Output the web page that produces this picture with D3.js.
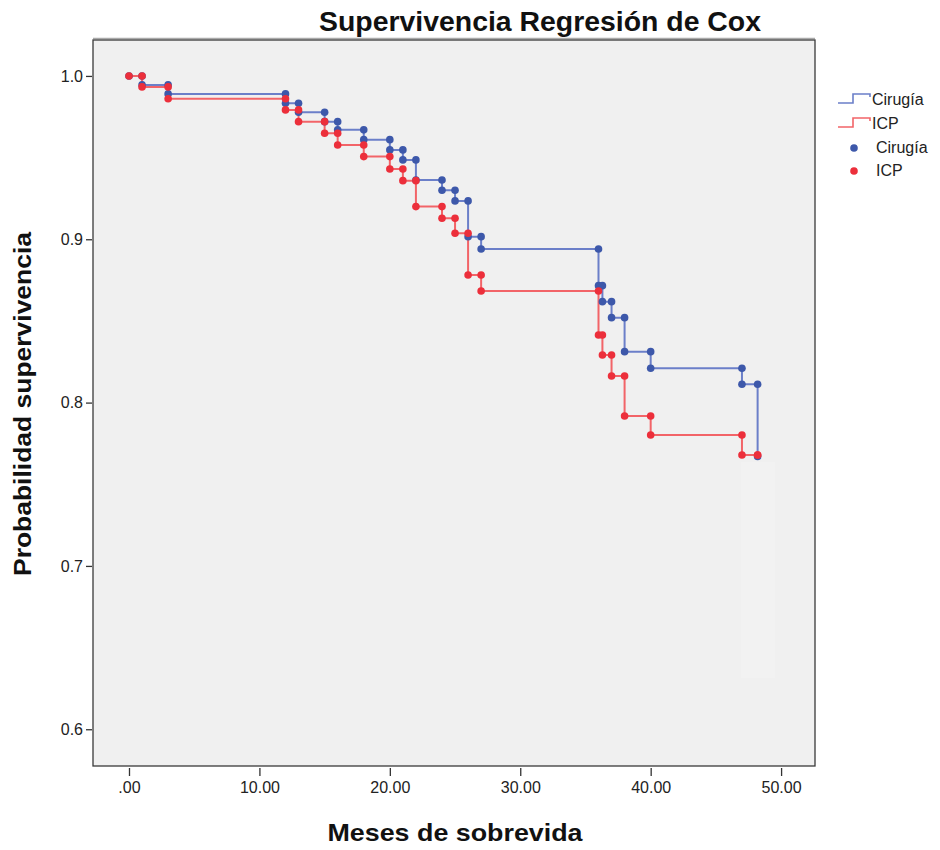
<!DOCTYPE html>
<html>
<head>
<meta charset="utf-8">
<script src="https://cdn.jsdelivr.net/npm/d3@7"></script>
<style>
  body { margin: 0; background: #fff; }
  text { font-family: "Liberation Sans", Arial, sans-serif; }
</style>
</head>
<body>
<script>
// event times (months) and survival estimates
let times = [0, 1, 3, 12, 13, 15, 16, 18, 20, 21, 22, 24, 25, 26, 27, 36, 36.3, 37, 38, 40, 47, 48.2];
let survCirugia = [1.0, 0.9945, 0.989, 0.9833, 0.9778, 0.972, 0.967, 0.961, 0.9547, 0.9486, 0.9363, 0.930, 0.9235, 0.9016, 0.894, 0.8716, 0.8618, 0.852, 0.8312, 0.821, 0.8112, 0.767];
let survICP = [1.0, 0.9933, 0.986, 0.9792, 0.972, 0.9649, 0.9577, 0.9506, 0.943, 0.9359, 0.920, 0.9129, 0.9037, 0.8781, 0.8683, 0.8414, 0.8291, 0.8163, 0.7918, 0.7802, 0.7679, 0.7679];
let groups = ["Cirugía", "ICP"];
let xTicks = [0, 10, 20, 30, 40, 50];
let yTicks = [0.6, 0.7, 0.8, 0.9, 1.0];

let lineColor = {"Cirugía": "#6b7fc9", "ICP": "#f26468"};
let dotColor = {"Cirugía": "#3d58aa", "ICP": "#ec2f3b"};

let frame = {left: 93, right: 815, top: 40, bottom: 766};

let svg = d3.select("body").append("svg")
  .attr("width", 940)
  .attr("height", 850);

let xScale = d3.scaleLinear().domain([-2.76, 52.6]).range([frame.left, frame.right]);
let yScale = d3.scaleLinear().domain([0.5775, 1.022]).range([frame.bottom, frame.top]);

// title
svg.append("text")
  .attr("x", 540)
  .attr("y", 31)
  .attr("text-anchor", "middle")
  .attr("textLength", 442)
  .attr("lengthAdjust", "spacingAndGlyphs")
  .style("font-size", "27px")
  .style("font-weight", "bold")
  .style("fill", "#111")
  .text("Supervivencia Regresión de Cox");

// plot area
svg.append("line")
  .attr("x1", frame.left).attr("x2", frame.right)
  .attr("y1", frame.top - 1.5).attr("y2", frame.top - 1.5)
  .style("stroke", "#aaa").style("stroke-width", 1.5);
svg.append("rect")
  .attr("x", frame.left)
  .attr("y", frame.top)
  .attr("width", frame.right - frame.left)
  .attr("height", frame.bottom - frame.top)
  .style("fill", "#f0f0f0")
  .style("stroke", "#3a3a3a")
  .style("stroke-width", 1.3);

// faint lighter patch that shows in the original render
svg.append("rect")
  .attr("x", 741).attr("y", 462)
  .attr("width", 34).attr("height", 216)
  .style("fill", "#f2f2f2");

let xAxis = d3.axisBottom(xScale).tickValues(xTicks).tickSize(8).tickPadding(6)
  .tickFormat(d => d === 0 ? ".00" : d.toFixed(2));
let yAxis = d3.axisLeft(yScale).tickValues(yTicks).tickSize(6).tickPadding(3)
  .tickFormat(d3.format(".1f"));

let gx = svg.append("g")
  .attr("transform", "translate(0," + (frame.bottom + 2) + ")")
  .call(xAxis);
let gy = svg.append("g")
  .attr("transform", "translate(" + (frame.left - 1) + ",0)")
  .call(yAxis);
[gx, gy].forEach(g => {
  g.select(".domain").remove();
  g.selectAll(".tick line").style("stroke", "#333").style("stroke-width", 1.3);
  g.selectAll(".tick text")
    .style("font-family", "'Liberation Sans', Arial, sans-serif")
    .style("font-size", "16px")
    .style("fill", "#222");
});

// axis titles
svg.append("text")
  .attr("x", 455)
  .attr("y", 841)
  .attr("text-anchor", "middle")
  .attr("textLength", 255)
  .attr("lengthAdjust", "spacingAndGlyphs")
  .style("font-size", "24px")
  .style("font-weight", "bold")
  .style("fill", "#111")
  .text("Meses de sobrevida");

svg.append("text")
  .attr("transform", "translate(31,404) rotate(-90)")
  .attr("text-anchor", "middle")
  .attr("textLength", 344)
  .attr("lengthAdjust", "spacingAndGlyphs")
  .style("font-size", "24px")
  .style("font-weight", "bold")
  .style("fill", "#111")
  .text("Probabilidad supervivencia");

// step curves
let series = groups.map((g, k) => ({
  name: g,
  values: times.map((t, i) => ({t: t, s: (k === 0 ? survCirugia : survICP)[i]}))
}));

let line = d3.line()
  .curve(d3.curveStepAfter)
  .x(d => xScale(d.t))
  .y(d => yScale(d.s));

svg.selectAll(".km")
  .data(series)
  .enter()
  .append("path")
  .attr("class", "km")
  .attr("d", d => line(d.values))
  .style("fill", "none")
  .style("stroke", d => lineColor[d.name])
  .style("stroke-width", 2);

// vertex markers: before and after each step
series.forEach(sr => {
  let pts = [sr.values[0]];
  for (let i = 1; i < sr.values.length; i++) {
    pts.push({t: sr.values[i].t, s: sr.values[i - 1].s});
    pts.push(sr.values[i]);
  }
  svg.append("g").selectAll("circle")
    .data(pts)
    .enter()
    .append("circle")
    .attr("cx", d => xScale(d.t))
    .attr("cy", d => yScale(d.s))
    .attr("r", 3.8)
    .style("fill", dotColor[sr.name]);
});

// legend
let legend = svg.append("g").attr("transform", "translate(838,0)");
let legY = [103, 127];
groups.forEach((g, i) => {
  let y0 = legY[i];
  legend.append("path")
    .attr("d", "M0," + y0 + "H15V" + (y0 - 9) + "H32V" + (y0 - 6))
    .style("fill", "none")
    .style("stroke", lineColor[g])
    .style("stroke-width", 1.6);
  legend.append("text")
    .attr("x", 34)
    .attr("y", y0 + 2)
    .style("font-size", "16px")
    .style("fill", "#222")
    .text(g);
});
let dotY = [148, 171];
groups.forEach((g, i) => {
  legend.append("circle")
    .attr("cx", 16)
    .attr("cy", dotY[i])
    .attr("r", 3.8)
    .style("fill", dotColor[g]);
  legend.append("text")
    .attr("x", 38)
    .attr("y", dotY[i] + 5)
    .style("font-size", "16px")
    .style("fill", "#222")
    .text(g);
});
</script>
</body>
</html>
